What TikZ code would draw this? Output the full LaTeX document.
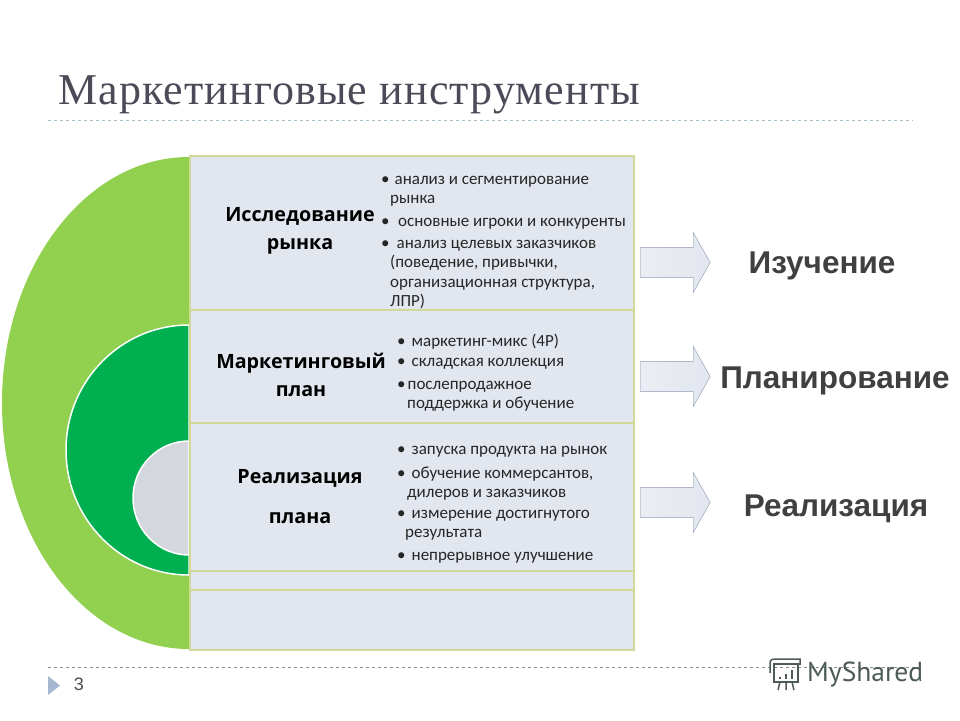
\documentclass[tikz,border=0pt]{standalone}
\usepackage{fontspec}
\setmainfont{Carlito}
\newfontfamily\titlefont[LetterSpace=2.6]{Liberation Serif}
\newfontfamily\headfont{Open Sans}
\newfontfamily\armfont{Liberation Sans}
\newfontfamily\logofont{PT Sans}
\usetikzlibrary{shapes.arrows,positioning}
\definecolor{lightgrn}{HTML}{92D050}
\definecolor{darkgrn}{HTML}{00B050}
\definecolor{coregray}{HTML}{D5D7DF}
\definecolor{rowfill}{HTML}{E2E6EE}
\definecolor{rowline}{HTML}{D2D896}
\definecolor{arrowline}{HTML}{8A96B0}
\definecolor{titlegray}{HTML}{4A4A58}
\definecolor{logogray}{HTML}{4C5A58}
\definecolor{topdash}{HTML}{A8C0CC}
\definecolor{pagemark}{HTML}{A5B8D0}
\begin{document}
\begin{tikzpicture}[
    x=1pt, y=-1pt,
    row/.style={rectangle, draw=rowline, line width=2pt, fill=rowfill, minimum width=444pt, inner sep=0pt, outer sep=0pt},
    headtext/.style={align=center, font=\fontsize{19.7}{28}\selectfont\headfont\bfseries, text=black},
    itemtext/.style={anchor=west, align=left, inner sep=0pt, text=black!85, font=\fontsize{17}{19.5}\selectfont},
    flowarrow/.style={single arrow, draw=arrowline, left color=rowfill!70!white, right color=rowfill, minimum height=70pt, minimum width=60pt, single arrow head extend=15pt, single arrow tip angle=121, inner sep=0pt},
    steptext/.style={font=\fontsize{31.5}{36}\selectfont\armfont\bfseries, text=black!75},
    rule/.style={dashed, line width=0.6pt}
]
\useasboundingbox (0,0) rectangle (960,720);
\fill[white] (0,0) rectangle (960,720);

% Title
\node[anchor=west, inner sep=0pt, text=titlegray, font=\fontsize{44}{48}\selectfont\titlefont] (title) at (58,95) {Маркетинговые инструменты};
\draw[rule, draw=topdash] (48,120) -- (913,120);

% Half circles
\fill[lightgrn] (189,649) arc[start angle=90, end angle=270, x radius=187, y radius=246] -- cycle;
\filldraw[darkgrn, draw=white, line width=1.5pt] (189,575) arc[start angle=90, end angle=270, x radius=123, y radius=125] -- cycle;
\filldraw[fill=coregray, draw=white, line width=1.5pt] (189,555) arc[start angle=90, end angle=270, x radius=56, y radius=57] -- cycle;

% Rows
\node[row, anchor=north west, minimum height=154pt] (study) at (190,156) {};
\node[row, below=0pt of study, minimum height=113pt] (plan) {};
\node[row, below=0pt of plan, minimum height=148pt] (impl) {};
\node[row, below=0pt of impl, minimum height=19pt] (gap) {};
\node[row, below=0pt of gap, minimum height=60pt] (blank) {};

% Row heads
\node[headtext] (studyhead) at (300,231) {Исследование\\рынка};
\node[headtext] (planhead) at (301,374.5) {Маркетинговый\\план};
\node[headtext, font=\fontsize{19.7}{40}\selectfont\headfont\bfseries] (implhead) at (300,497) {Реализация\\плана};

% Study items
\node[itemtext] (a1) at (381,191) {•\hspace{5pt}анализ и сегментирование\\\hspace{9pt}рынка};
\node[itemtext] (a2) at (381,224) {•\hspace{8.5pt}основные игроки и конкуренты};
\node[itemtext] (a3) at (381,274.5) {•\hspace{7pt}анализ целевых заказчиков\\\hspace{9pt}(поведение, привычки,\\\hspace{9pt}организационная структура,\\\hspace{9pt}ЛПР)};

% Plan items
\node[itemtext] (b1) at (397,342) {•\hspace{6pt}маркетинг-микс (4Р)};
\node[itemtext] (b2) at (397,364) {•\hspace{6pt}складская коллекция};
\node[itemtext] (b3) at (397,396.5) {•\hspace{2pt}послепродажное\\\hspace{10pt}поддержка и обучение};

% Implementation items
\node[itemtext] (c1) at (397,452) {•\hspace{6pt}запуска продукта на рынок};
\node[itemtext] (c2) at (397,483.5) {•\hspace{6pt}обучение коммерсантов,\\\hspace{10pt}дилеров и заказчиков};
\node[itemtext] (c3) at (397,525) {•\hspace{6pt}измерение достигнутого\\\hspace{8pt}результата};
\node[itemtext] (c4) at (397,558) {•\hspace{6pt}непрерывное улучшение};

% Arrows and step names
\node[flowarrow] (arrowa) at (671,262.5) {\rule{0pt}{29pt}};
\node[flowarrow] (arrowb) at (671,376.5) {\rule{0pt}{29pt}};
\node[flowarrow] (arrowc) at (671,502.5) {\rule{0pt}{29pt}};
\node[steptext] (stepa) at (822,266) {Изучение};
\node[steptext] (stepb) at (835,381) {Планирование};
\node[steptext] (stepc) at (836,509) {Реализация};

% Footer
\draw[rule, draw=black!45] (48,667) -- (915,667);
\fill[pagemark] (48,676) -- (60,685.5) -- (48,695) -- cycle;
\node[text=black!70, font=\fontsize{18}{20}\selectfont\armfont] (pagenum) at (79,684) {3};

% Logo
\begin{scope}[draw=logogray, line width=1.5pt]
\draw (774,664) rectangle (798,682);
\draw (770,673) -- (770,663) .. controls (770,659) and (773,659) .. (776,659) -- (800,659) -- (800,664) -- (774,664);
\draw (780,682) -- (778,690) (786,682) -- (786,690) (792,682) -- (794,690);
\draw[line width=2pt] (780,677) -- (780,679) (786,674) -- (786,679) (792,670) -- (792,679);
\end{scope}
\node[anchor=west, inner sep=0pt, text=logogray, font=\fontsize{27.5}{30}\selectfont\logofont] (logo) at (807,675) {MyShared};
\end{tikzpicture}
\end{document}
